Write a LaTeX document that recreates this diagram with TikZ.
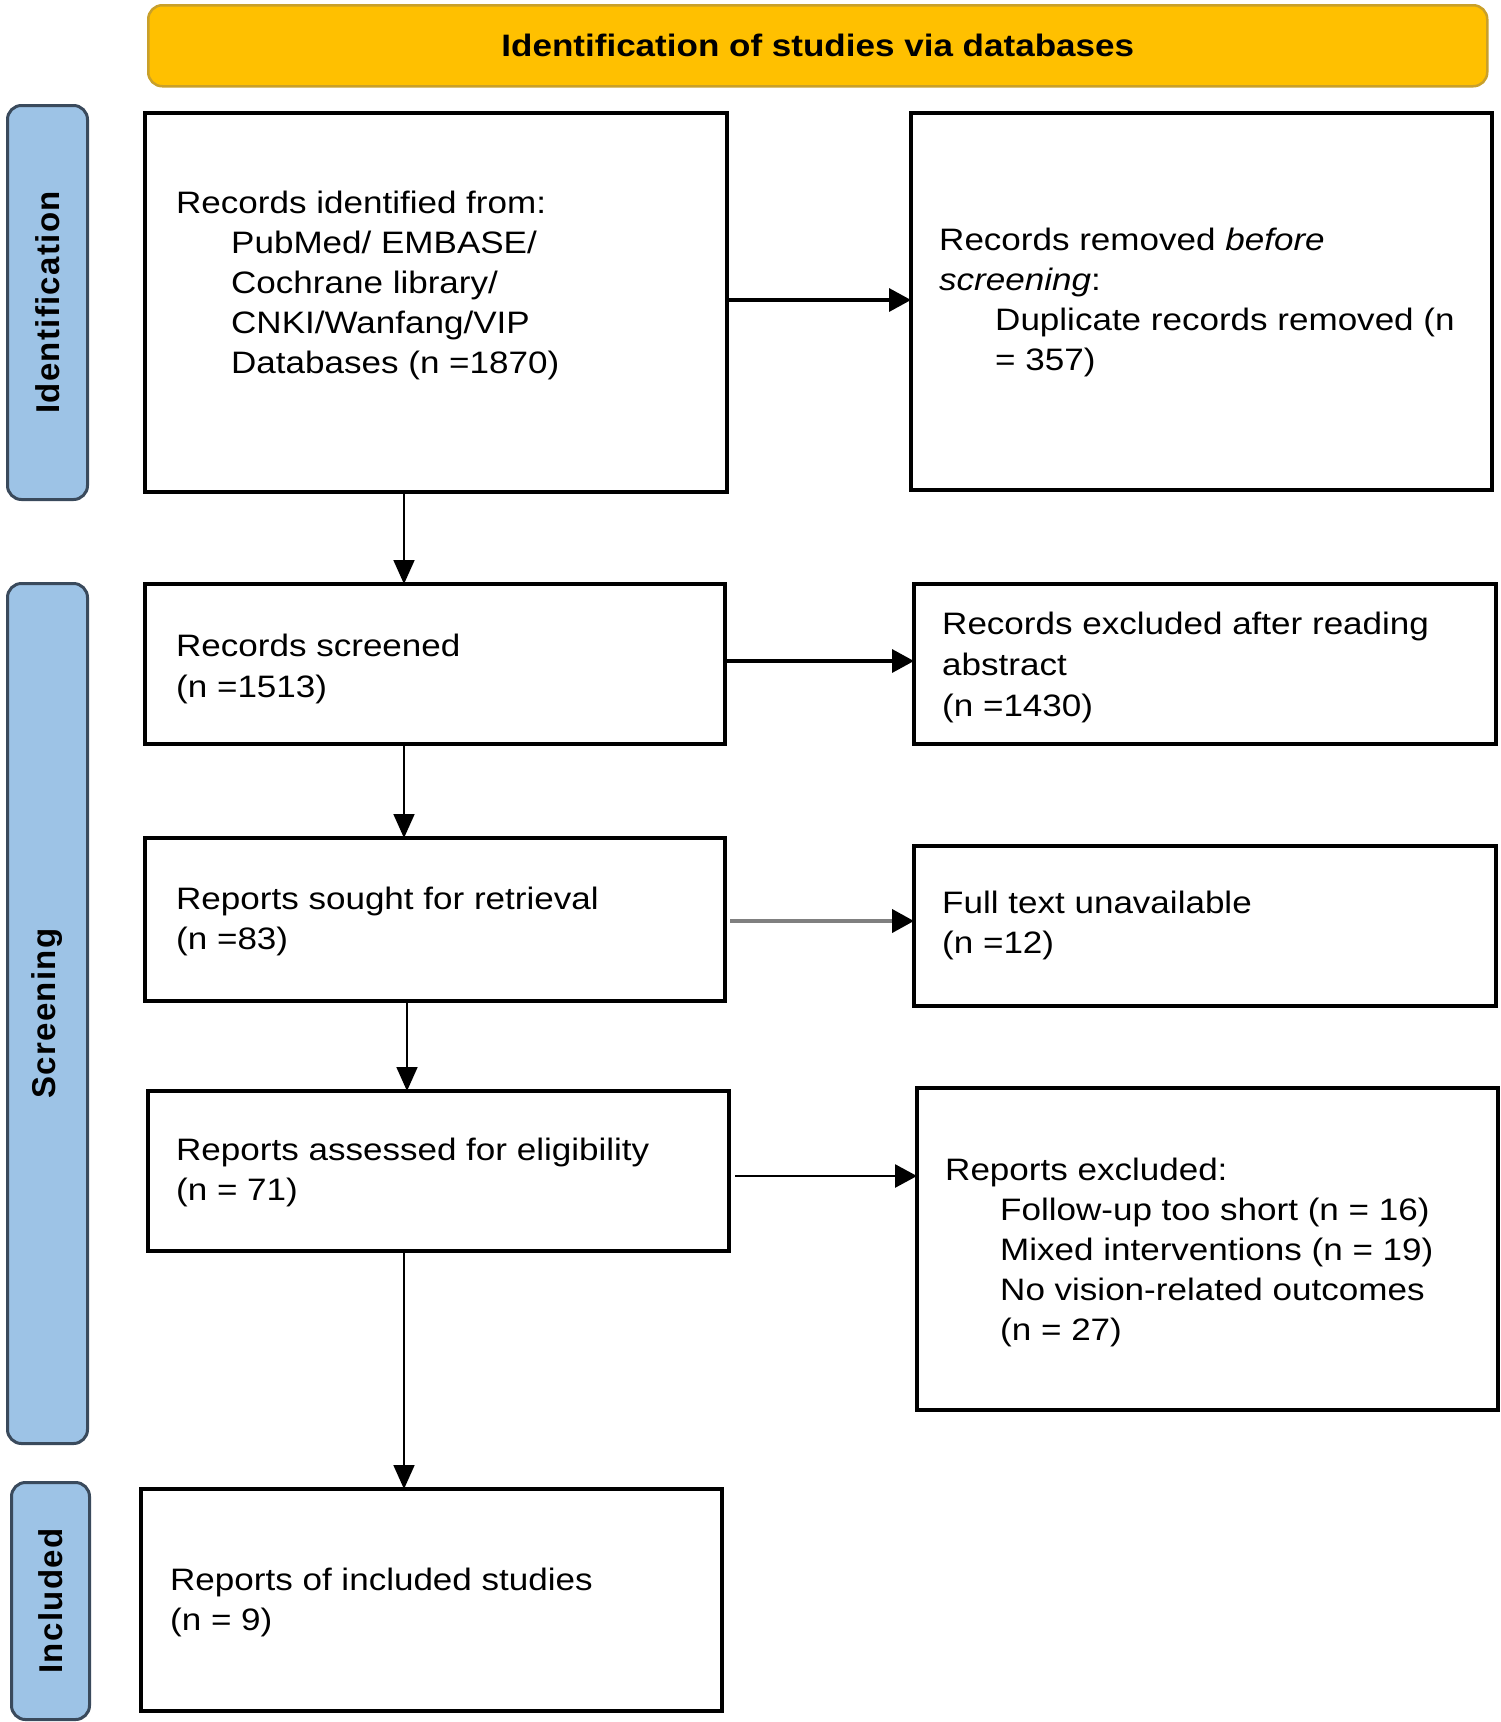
\documentclass[tikz,border=0pt]{standalone}
\usepackage{fontspec}
\setmainfont{Liberation Sans}[FakeStretch=1.13]
\newfontfamily\sidefont{Liberation Sans}[LetterSpace=4]
\usetikzlibrary{arrows.meta,calc}
\definecolor{hdrfill}{HTML}{FFC000}
\definecolor{hdrdraw}{HTML}{C9A02A}
\definecolor{sidefill}{HTML}{9DC3E6}
\definecolor{sidedraw}{HTML}{3A4A5C}
\definecolor{greyarrow}{HTML}{808080}
\tikzset{
  x=1pt, y=-1pt,
  box/.style={draw=black, line width=4.5pt, fill=white, inner sep=0pt, outer sep=0pt, anchor=north west},
  hdr/.style={draw=hdrdraw, line width=2.5pt, fill=hdrfill, rounded corners=14pt, inner sep=0pt, anchor=north west},
  side/.style={draw=sidedraw, line width=3pt, fill=sidefill, rounded corners=14pt, inner sep=0pt, anchor=north west},
  sidelabel/.style={rotate=90, font=\sidefont\fontsize{33}{40}\selectfont\bfseries, inner sep=0pt},
  txt/.style={font=\fontsize{31}{40}\selectfont, inner sep=0pt, anchor=base west},
  varr/.style={line width=1.8pt, -{Triangle[length=24pt,width=21pt]}},
  harr/.style={line width=3.5pt, -{Triangle[length=22pt,width=23pt]}},
}
\begin{document}
\begin{tikzpicture}
\useasboundingbox (0,0) rectangle (1500,1722);
% header
\node[hdr, minimum width=1339pt, minimum height=81pt] (hdr) at (147,4) {};
\node[font=\fontsize{31}{40}\selectfont\bfseries, inner sep=0pt] (hdrt) at (hdr.center) {Identification of studies via databases};
% side bars
\node[side, minimum width=80pt, minimum height=394pt] (sid) at (6,104) {};
\node[sidelabel] (sidt) at (sid.center) {Identification};
\node[side, minimum width=80pt, minimum height=860pt] (sscr) at (6,582) {};
\node[sidelabel] (sscrt) at (sscr.center) {Screening};
\node[side, minimum width=78pt, minimum height=237pt] (sinc) at (10,1481) {};
\node[sidelabel] (sinct) at (sinc.center) {Included};
% boxes
\node[box, minimum width=582pt, minimum height=379pt] (b1) at (145,113) {};
\node[box, minimum width=581pt, minimum height=377pt] (b2) at (911,113) {};
\node[box, minimum width=580pt, minimum height=160pt] (b3) at (145,584) {};
\node[box, minimum width=582pt, minimum height=160pt] (b4) at (914,584) {};
\node[box, minimum width=580pt, minimum height=163pt] (b5) at (145,838) {};
\node[box, minimum width=582pt, minimum height=160pt] (b6) at (914,846) {};
\node[box, minimum width=581pt, minimum height=160pt] (b7) at (148,1091) {};
\node[box, minimum width=581pt, minimum height=322pt] (b8) at (917,1088) {};
\node[box, minimum width=581pt, minimum height=222pt] (b9) at (141,1489) {};
% texts
\node[txt] (t1a) at (176,213) {Records identified from:};
\node[txt] (t1b) at (231,253) {PubMed/ EMBASE/};
\node[txt] (t1c) at (231,293) {Cochrane library/};
\node[txt] (t1d) at (231,333) {CNKI/Wanfang/VIP};
\node[txt] (t1e) at (231,373) {Databases (n =1870)};
\node[txt] (t2a) at (939,250) {Records removed \textit{before}};
\node[txt] (t2b) at (939,290) {\textit{screening}:};
\node[txt] (t2c) at (995,330) {Duplicate records removed (n};
\node[txt] (t2d) at (995,370) {= 357)};
\node[txt] (t3a) at (176,656) {Records screened};
\node[txt] (t3b) at (176,697) {(n =1513)};
\node[txt] (t4a) at (942,634) {Records excluded after reading};
\node[txt] (t4b) at (942,675) {abstract};
\node[txt] (t4c) at (942,716) {(n =1430)};
\node[txt] (t5a) at (176,909) {Reports sought for retrieval};
\node[txt] (t5b) at (176,949) {(n =83)};
\node[txt] (t6a) at (942,913) {Full text unavailable};
\node[txt] (t6b) at (942,953) {(n =12)};
\node[txt] (t7a) at (176,1160) {Reports assessed for eligibility};
\node[txt] (t7b) at (176,1200) {(n = 71)};
\node[txt] (t8a) at (945,1180) {Reports excluded:};
\node[txt] (t8b) at (1000,1220) {Follow-up too short (n = 16)};
\node[txt] (t8c) at (1000,1260) {Mixed interventions (n = 19)};
\node[txt] (t8d) at (1000,1300) {No vision-related outcomes};
\node[txt] (t8e) at (1000,1340) {(n = 27)};
\node[txt] (t9a) at (170,1590) {Reports of included studies};
\node[txt] (t9b) at (170,1630) {(n = 9)};
% connectors
\coordinate (spine) at (404,0);
\coordinate (spineb) at (407,0);
\draw[varr] (b1.south -| spine) -- (b3.north -| spine);
\draw[varr] (b3.south -| spine) -- (b5.north -| spine);
\draw[varr] (b5.south -| spineb) -- (b7.north -| spineb);
\draw[varr] (b7.south -| spine) -- (b9.north -| spine);
\coordinate (h1) at (0,300);
\coordinate (h2) at (0,661);
\coordinate (h3) at (0,921);
\coordinate (h4) at (0,1176);
\draw[harr] (b1.east |- h1) -- (b2.west |- h1);
\draw[harr] (b3.east |- h2) -- (b4.west |- h2);
\draw[line width=4pt, draw=greyarrow, -{Triangle[length=22pt,width=23pt,color=black]}] ([xshift=5pt]b5.east |- h3) -- (b6.west |- h3);
\draw[harr, line width=2.8pt] ([xshift=6pt]b7.east |- h4) -- (b8.west |- h4);
\end{tikzpicture}
\end{document}
